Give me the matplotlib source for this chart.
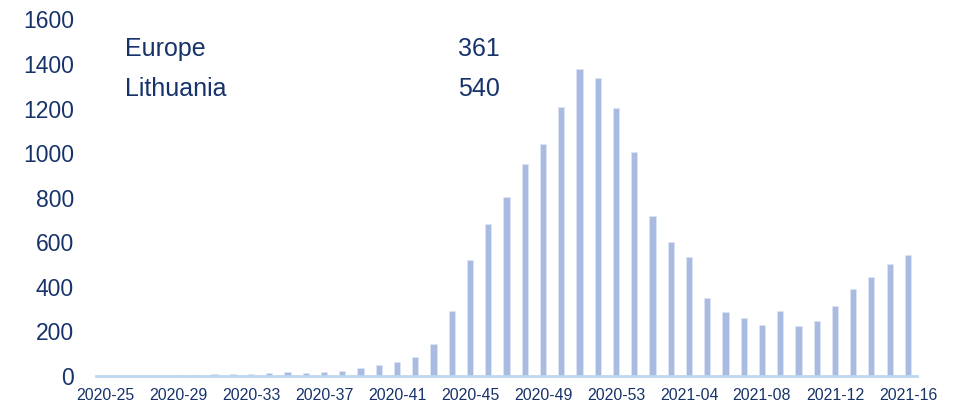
import matplotlib
matplotlib.use("Agg")
import matplotlib.pyplot as plt

plt.rcParams["font.family"] = ["Liberation Sans", "DejaVu Sans"]

# Weekly notification rate, Lithuania (2020-25 .. 2021-16)
weeks = [f"2020-{w:02d}" for w in range(25, 54)] + [f"2021-{w:02d}" for w in range(1, 17)]
values = [
    0, 0, 0, 0, 1, 2, 6, 7, 9, 12, 15, 14, 15, 21, 35, 49, 61, 82, 143, 292,
    519, 683, 801, 952, 1039, 1206, 1378, 1339, 1202,
    1007, 717, 599, 532, 351, 285, 260, 227, 290, 221, 245, 311, 389, 444, 501, 540,
]
legend_labels = ["Europe", "Lithuania"]
legend_values = [361, 540]
y_ticks = [0, 200, 400, 600, 800, 1000, 1200, 1400, 1600]

text_color = "#17336A"
bar_color = "#A9BBE1"
axis_color = "#BDD7EE"

W, H = 954, 403
fig = plt.figure(figsize=(W / 100, H / 100), dpi=100)
left, right, top, bottom = 96, 917, 19.5, 375.7
ax = fig.add_axes([left / W, 1 - bottom / H, (right - left) / W, (bottom - top) / H])

x = list(range(len(weeks)))
ax.bar(x, values, width=0.34, color=bar_color, edgecolor="#DCE4F4", linewidth=0.6, zorder=2)

ax.set_xlim(-0.5, len(weeks) - 0.5)
ax.set_ylim(0, 1600)
ax.set_yticks(y_ticks)
ax.set_yticklabels([str(v) for v in y_ticks], fontsize=16.5, color=text_color)
tick_idx = list(range(0, len(weeks), 4))
ax.set_xticks(tick_idx)
ax.set_xticklabels([weeks[i] for i in tick_idx], fontsize=11.4, color=text_color)
ax.tick_params(axis="y", length=0, pad=16)
ax.tick_params(axis="x", length=0, pad=8.5)

for side in ["top", "right", "left"]:
    ax.spines[side].set_visible(False)
ax.spines["bottom"].set_color(axis_color)
ax.spines["bottom"].set_linewidth(2)
ax.spines["bottom"].set_zorder(3)

# Summary table in the upper-left corner
for i, (lab, val) in enumerate(zip(legend_labels, legend_values)):
    ypix = 46.7 + i * 40
    fig.text(125 / W, 1 - ypix / H, lab, fontsize=18, color=text_color, va="center_baseline", ha="left")
    fig.text(458 / W, 1 - ypix / H, str(val), fontsize=18, color=text_color, va="center_baseline", ha="left")

fig.savefig("out.png", dpi=100, facecolor="white")
